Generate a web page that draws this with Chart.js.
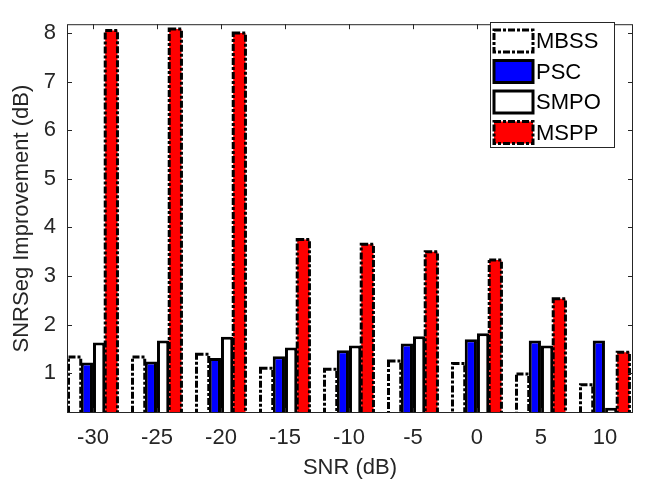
<!DOCTYPE html>
<html>
<head>
<meta charset="utf-8">
<style>
body { margin: 0; background: #fff; }
#wrap { width: 654px; height: 488px; }
</style>
<script src="https://cdn.jsdelivr.net/npm/chart.js@4.4.1/dist/chart.umd.min.js"></script>
</head>
<body>
<div id="wrap"><canvas id="myChart" width="654" height="488"></canvas></div>
<script>
var snrLabels = ['-30', '-25', '-20', '-15', '-10', '-5', '0', '5', '10'];
var mbss = [1.33, 1.33, 1.39, 1.10, 1.08, 1.25, 1.20, 0.98, 0.76];
var psc  = [1.22, 1.24, 1.31, 1.35, 1.47, 1.61, 1.70, 1.67, 1.67];
var smpo = [1.63, 1.67, 1.75, 1.53, 1.57, 1.76, 1.82, 1.57, 0.29];
var mspp = [8.05, 8.08, 8.00, 3.75, 3.65, 3.50, 3.33, 2.53, 1.43];
var yTicks = [1, 2, 3, 4, 5, 6, 7, 8];
var seriesNames = ['MBSS', 'PSC', 'SMPO', 'MSPP'];

var axisColor = '#262626';
var fontName = "'Liberation Sans', Arial, sans-serif";
var dashPat = [7, 2, 3, 2];

function pts(arr) {
	return arr.map(function(v, i) { return {x: i + 1, y: v}; });
}

// dashed outlines for MBSS / MSPP, plus the MATLAB style box + inward ticks + legend
var extras = {
	id: 'extras',
	afterDatasetsDraw: function(chart) {
		var ctx = chart.ctx;
		var area = chart.chartArea;
		ctx.save();
		ctx.beginPath();
		ctx.rect(area.left, area.top, area.right - area.left, area.bottom - area.top);
		ctx.clip();
		chart.data.datasets.forEach(function(ds, di) {
			if (!ds.dashed) return;
			var meta = chart.getDatasetMeta(di);
			meta.data.forEach(function(bar) {
				var p = bar.getProps(['x', 'y', 'base', 'width'], true);
				var l = p.x - p.width / 2, t = p.y;
				ctx.lineWidth = 3;
				ctx.strokeStyle = '#000';
				ctx.setLineDash(dashPat);
				ctx.strokeRect(l, t, p.width, p.base - t);
			});
		});
		ctx.restore();

		// box and ticks
		var xs = chart.scales.x, ys = chart.scales.y;
		ctx.save();
		ctx.strokeStyle = axisColor;
		ctx.lineWidth = 1;
		ctx.strokeRect(area.left + 0.5, area.top + 0.5, area.right - area.left - 1, area.bottom - area.top - 1);
		ctx.beginPath();
		for (var i = 1; i <= snrLabels.length; i++) {
			var px = Math.round(xs.getPixelForValue(i)) + 0.5;
			ctx.moveTo(px, area.bottom); ctx.lineTo(px, area.bottom - 5);
			ctx.moveTo(px, area.top); ctx.lineTo(px, area.top + 5);
		}
		yTicks.forEach(function(v) {
			var py = Math.round(ys.getPixelForValue(v)) + 0.5;
			ctx.moveTo(area.left, py); ctx.lineTo(area.left + 5, py);
			ctx.moveTo(area.right, py); ctx.lineTo(area.right - 5, py);
		});
		ctx.stroke();
		ctx.restore();

		// legend
		var lx = 490, ly = 22, lw = 124, lh = 125;
		ctx.save();
		ctx.fillStyle = '#fff';
		ctx.fillRect(lx, ly, lw, lh);
		ctx.strokeStyle = axisColor;
		ctx.lineWidth = 1;
		ctx.strokeRect(lx + 0.5, ly + 0.5, lw, lh);
		chart.data.datasets.forEach(function(ds, di) {
			var cy = 41 + di * 30.5;
			var sx = 494, sw = 39, sh = 22;
			ctx.fillStyle = ds.backgroundColor;
			ctx.fillRect(sx, cy - sh / 2, sw, sh);
			ctx.strokeStyle = '#000';
			ctx.lineWidth = 3;
			ctx.setLineDash(ds.dashed ? dashPat : []);
			ctx.strokeRect(sx, cy - sh / 2, sw, sh);
			ctx.setLineDash([]);
			ctx.fillStyle = '#000';
			ctx.font = '22px ' + fontName;
			ctx.textBaseline = 'middle';
			ctx.fillText(ds.label, 536, cy + 1);
		});
		ctx.restore();
	}
};

var ctx = document.getElementById('myChart');
var myChart = new Chart(ctx, {
	type: 'bar',
	data: {
		datasets: [{
			label: seriesNames[0],
			data: pts(mbss),
			backgroundColor: '#ffffff',
			borderWidth: 0,
			dashed: true
		}, {
			label: seriesNames[1],
			data: pts(psc),
			backgroundColor: '#0000ff',
			borderColor: '#000000',
			borderWidth: 3,
			borderSkipped: false
		}, {
			label: seriesNames[2],
			data: pts(smpo),
			backgroundColor: '#ffffff',
			borderColor: '#000000',
			borderWidth: 3,
			borderSkipped: false
		}, {
			label: seriesNames[3],
			data: pts(mspp),
			backgroundColor: '#ff0000',
			borderWidth: 0,
			dashed: true
		}]
	},
	options: {
		responsive: false,
		animation: false,
		events: [],
		layout: { padding: { left: 0, right: 21, top: 5, bottom: 0 } },
		datasets: { bar: { categoryPercentage: 0.765, barPercentage: 1.0, grouped: true } },
		plugins: { legend: { display: false }, tooltip: { enabled: false } },
		scales: {
			x: {
				type: 'linear',
				min: 0.594,
				max: 9.438,
				offset: false,
				grid: { display: false, drawTicks: false },
				border: { display: false },
				afterBuildTicks: function(scale) {
					scale.ticks = snrLabels.map(function(l, i) { return {value: i + 1}; });
				},
				afterFit: function(scale) { scale.height = 75; },
				ticks: {
					padding: 12,
					color: axisColor,
					font: { family: fontName, size: 22 },
					callback: function(v) { return snrLabels[v - 1]; }
				},
				title: {
					display: true,
					text: 'SNR (dB)',
					color: axisColor,
					font: { family: fontName, size: 22 },
					padding: { top: 0, bottom: 7 }
				}
			},
			y: {
				min: 0.18,
				max: 8.18,
				grid: { display: false, drawTicks: false },
				border: { display: false },
				afterBuildTicks: function(scale) {
					scale.ticks = yTicks.map(function(v) { return {value: v}; });
				},
				afterFit: function(scale) { scale.width = 67; },
				ticks: {
					padding: 11,
					color: axisColor,
					font: { family: fontName, size: 22 }
				},
				title: {
					display: true,
					text: 'SNRSeg Improvement (dB)',
					color: axisColor,
					font: { family: fontName, size: 22 },
					padding: { top: 9, bottom: 0 }
				}
			}
		}
	},
	plugins: [extras]
});
</script>
</body>
</html>
